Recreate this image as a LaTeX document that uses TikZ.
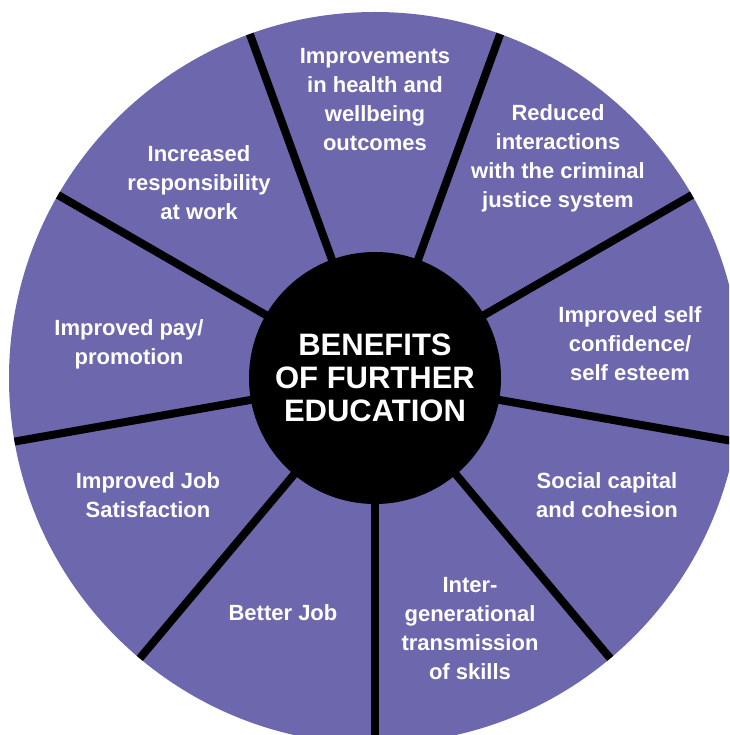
\documentclass[tikz,border=0pt]{standalone}
\usepackage{fontspec}
\setmainfont{Liberation Sans}
\usepackage{tikz}
\usetikzlibrary{positioning,calc}

\definecolor{wheelpurple}{RGB}{109,103,173}
\tikzset{
	benefit/.style={align=center,text=white,inner sep=0pt,font=\fontsize{22}{29}\selectfont\bfseries},
	hub/.style={shape=circle,fill=black,minimum size=252pt,inner sep=0pt,align=center,text=white,font=\fontsize{31}{33}\selectfont\bfseries}
}

\begin{document}
\begin{tikzpicture}[x=1pt,y=1pt]
				\useasboundingbox (0,0) rectangle (729,-735);
				\clip (0,0) rectangle (729,-735);
				\coordinate (o) at (375,-378);
				\fill[wheelpurple] (o) circle (366);

				\foreach \a in {-90,-50,...,230}
					\draw[-,line width=8pt] (o) -- ++(\a:366);

				\node[hub] (core) at (o) {BENEFITS\\OF FURTHER\\EDUCATION};

				\node[benefit] (health) at (375,-100) {Improvements\\in health and\\wellbeing\\outcomes};
				\node[benefit] (justice) at (558,-158) {Reduced\\interactions\\with the criminal\\justice system};
				\node[benefit] (resp) at (199,-183) {Increased\\responsibility\\at work};
				\node[benefit] (pay) at (129,-344) {Improved pay/\\promotion};
				\node[benefit] (conf) at (630,-344) {Improved self\\confidence/\\self esteem};
				\node[benefit] (social) at (607,-495) {Social capital\\and cohesion};
				\node[benefit] (jobsat) at (148,-495) {Improved Job\\Satisfaction};
				\node[benefit] (better) at (283,-613) {Better Job};
				\node[benefit] (skills) at (470,-629) {Inter-\\generational\\transmission\\of skills};
			\end{tikzpicture}
\end{document}
